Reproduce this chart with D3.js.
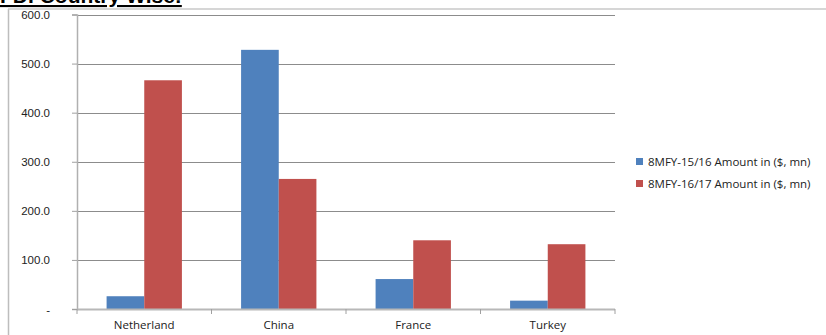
<!DOCTYPE html>
<html><head><meta charset="utf-8">
<script src="https://cdn.jsdelivr.net/npm/d3@7"></script>
<style>body{margin:0;background:#fff;}svg{display:block;font-family:"Open Sans","Liberation Sans",sans-serif;}</style>
</head><body>
<svg id="c" width="826" height="335"></svg>
<script>
const categories = ["Netherland","China","France","Turkey"];
const seriesNames = ["8MFY-15/16 Amount in ($, mn)","8MFY-16/17 Amount in ($, mn)"];
const fy1516 = [26, 528, 61, 17];
const fy1617 = [466, 265, 140, 132];
const yTicks = [0,100,200,300,400,500,600];
const colors = ["#4f81bd","#c0504d"];

const svg = d3.select("#c");
const m = {left:77, right:615, top:14.5, bottom:309};

// outer frame
svg.append("line").attr("x1",8.5).attr("x2",8.5).attr("y1",9).attr("y2",335).attr("stroke","#bdbdbd").attr("stroke-width",1.5);
svg.append("line").attr("x1",8).attr("x2",826).attr("y1",9).attr("y2",9).attr("stroke","#c8c8c8").attr("stroke-width",1.5);

// title (clipped at top, as in the reference)
svg.append("text").attr("x",0).attr("y",3).attr("font-weight","bold").attr("font-size",21)
  .attr("font-family","Liberation Sans, sans-serif").attr("text-decoration","underline").text("FDI Country Wise:");

const x = d3.scaleBand().domain(categories).range([m.left,m.right]).paddingInner(0.44).paddingOuter(0.22);
const y = d3.scaleLinear().domain([0,600]).range([m.bottom,m.top]);
const xs = d3.scaleBand().domain([0,1]).range([0,x.bandwidth()]);

// gridlines
svg.append("g").selectAll("line").data(yTicks.filter(d=>d>0)).join("line")
  .attr("x1",m.left).attr("x2",m.right).attr("y1",d=>Math.round(y(d))+0.5).attr("y2",d=>Math.round(y(d))+0.5)
  .attr("stroke","#8c8c8c").attr("stroke-width",1);

// bars
const series = [fy1516, fy1617];
series.forEach((vals,si)=>{
  svg.append("g").selectAll("rect").data(categories).join("rect")
    .attr("x",c=>x(c)+xs(si)).attr("width",xs.bandwidth())
    .attr("y",(c,i)=>y(vals[i])).attr("height",(c,i)=>y(0)-y(vals[i]))
    .attr("fill",colors[si]);
});

// y axis
const yAxis = d3.axisLeft(y).tickValues(yTicks).tickSize(5).tickPadding(22)
  .tickFormat(d=>d===0?"-":d3.format(".1f")(d));
const gy = svg.append("g").attr("transform",`translate(${m.left},0)`).call(yAxis);
gy.select(".domain").attr("stroke","#b0b0b0").attr("stroke-width",1.5);
gy.selectAll(".tick line").attr("stroke","#a0a0a0");
gy.selectAll("text").attr("font-size",11.5).attr("fill","#222").attr("dy","0.35em");

// x axis
const tickPos = d3.range(categories.length+1).map(i=>m.left + i*(m.right-m.left)/categories.length);
svg.append("line").attr("x1",m.left).attr("x2",m.right).attr("y1",m.bottom+0.5).attr("y2",m.bottom+0.5).attr("stroke","#b8b8b8").attr("stroke-width",2);
svg.append("g").selectAll("line").data(tickPos).join("line")
  .attr("x1",d=>d).attr("x2",d=>d).attr("y1",m.bottom).attr("y2",m.bottom+5).attr("stroke","#a0a0a0");
svg.append("g").selectAll("text").data(categories).join("text")
  .attr("x",c=>x(c)+x.bandwidth()/2).attr("y",329).attr("text-anchor","middle")
  .attr("font-size",11.5).attr("fill","#222").text(c=>c);

// legend
const lg = svg.append("g");
seriesNames.forEach((n,i)=>{
  const yy = 162 + i*22;
  lg.append("rect").attr("x",636).attr("y",yy-4).attr("width",7).attr("height",7).attr("fill",colors[i]);
  lg.append("text").attr("x",648).attr("y",yy).attr("dy","0.35em").attr("font-size",11.5).attr("fill","#222").text(n);
});
</script>
</body></html>
